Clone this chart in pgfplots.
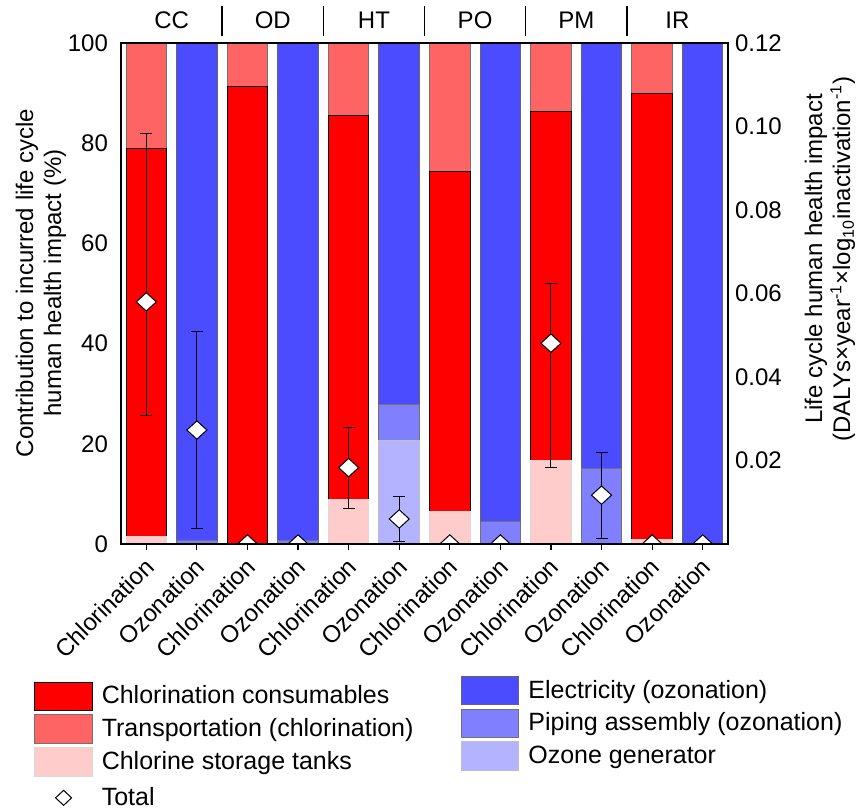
\documentclass[border=0pt]{standalone}
\usepackage{pgfplots}
\pgfplotsset{compat=1.18}
\usepackage{pgfplotstable}
\usepackage{fontspec}
\setmainfont{Liberation Sans}

\definecolor{consum}{RGB}{255,0,0}
\definecolor{transp}{RGB}{255,100,100}
\definecolor{tank}{RGB}{255,204,204}
\definecolor{elec}{RGB}{75,75,255}
\definecolor{piping}{RGB}{128,128,255}
\definecolor{ozgen}{RGB}{179,179,255}

\newcommand\lbl{\fontsize{12}{14}\selectfont}
\newcommand\lgd{\fontsize{12.5}{14}\selectfont}

% chlorination bars: contributions in percent, stacked bottom to top
\pgfplotstableread{
x  tank consum transp
0  1.5  77.5   21.0
2  0.2  91.2   8.6
4  8.9  76.7   14.4
6  6.4  68.0   25.6
8  16.6 69.7   13.7
10 0.9  89.1   10.0
}\chlor

% ozonation bars: contributions in percent, stacked bottom to top
\pgfplotstableread{
x  ozgen piping elec
1  0     0.7    99.3
3  0     0.7    99.3
5  20.6  7.2    72.2
7  0     4.5    95.5
9  0     15.1   84.9
11 0     0.2    99.8
}\ozon

% total impact (DALYs per year per log10 inactivation) with error range
\pgfplotstableread{
x  total  plus   minus
0  0.0580 0.0404 0.0273
1  0.0273 0.0237 0.0237
2  0      0      0
3  0      0      0
4  0.0183 0.0097 0.0097
5  0.0060 0.0053 0.0053
6  0      0      0
7  0      0      0
8  0.0481 0.0144 0.0297
9  0.0117 0.0103 0.0103
10 0      0.0008 0
11 0      0.0008 0
}\total

\pgfplotsset{
  panel/.style={
    scale only axis, width=303.5pt, height=250.5pt,
    at={(0pt,0pt)}, anchor=south west,
    xmin=-0.5, xmax=11.5, ymin=0, ymax=100,
    /pgf/number format/assume math mode=true,
    tick label style={font=\lbl},
    axis line style={line width=0.9pt},
  },
  bars/.style={ybar stacked, bar width=0.8},
  boxleg/.style={legend image code/.code={\draw[##1] (0pt,-7.1pt) rectangle (28.7pt,7.1pt);}},
  legbox/.style={draw=none, fill=none, inner sep=0pt, outer sep=0pt,
    row sep=1.65pt, column sep=2.5pt, font=\lgd},
  cap/.style={only marks, mark=-, mark size=3pt, black, mark options={line width=0.5pt}},
}

\begin{document}
\begin{tikzpicture}
\useasboundingbox (-60.5pt,-132.5pt) rectangle (373pt,272pt);

% chlorination bars, left axis, category labels
\begin{axis}[panel, bars, clip=false,
  xtick={0,...,11},
  xticklabels={Chlorination,Ozonation,Chlorination,Ozonation,Chlorination,Ozonation,
               Chlorination,Ozonation,Chlorination,Ozonation,Chlorination,Ozonation},
  xtick pos=bottom, tick align=outside, major tick length=3pt,
  x tick style={black, line width=0.6pt},
  xticklabel style={xshift=-1.5pt, yshift=-3pt, rotate=45, anchor=north east, inner sep=0pt},
  ytick={0,20,...,100}, ytick pos=left, y tick style={draw=none},
  ylabel={Contribution to incurred life cycle\\human health impact (\%)},
  every axis y label/.style={at={(axis description cs:-0.1318,0.521)}, rotate=90,
    anchor=center, align=center, font=\lbl},
  legend style={legbox, at={(axis description cs:-0.1427,-0.2749)}, anchor=north west},
  legend cell align=left,
]
\addlegendimage{boxleg, fill=consum, draw=black, line width=0.5pt}
\addlegendentry{Chlorination consumables}
\addlegendimage{boxleg, fill=transp, draw=black!55, line width=0.5pt}
\addlegendentry{Transportation (chlorination)}
\addlegendimage{boxleg, fill=tank, draw=black!15, line width=0.5pt}
\addlegendentry{Chlorine storage tanks}
\addlegendimage{legend image code/.code={
  \path[draw=none, fill=none] (0pt,-6pt) rectangle (28.7pt,9pt);
  \draw[black, fill=white, line width=0.5pt] (10.35pt,0pt) -- (14.35pt,3.75pt) -- (18.35pt,0pt) -- (14.35pt,-3.75pt) -- cycle;}}
\addlegendentry{Total}

\addplot[fill=tank, draw=black!15, line width=0.5pt] table[x=x, y=tank]{\chlor};
\addplot[fill=consum, draw=black, line width=0.5pt] table[x=x, y=consum]{\chlor};
\addplot[fill=transp, draw=black!55, line width=0.5pt] table[x=x, y=transp]{\chlor};

% impact categories above the plot
\node[font=\lbl, yshift=11.5pt] at (axis cs:0.5,100) {CC};
\node[font=\lbl, yshift=11.5pt] at (axis cs:2.5,100) {OD};
\node[font=\lbl, yshift=11.5pt] at (axis cs:4.5,100) {HT};
\node[font=\lbl, yshift=11.5pt] at (axis cs:6.5,100) {PO};
\node[font=\lbl, yshift=11.5pt] at (axis cs:8.5,100) {PM};
\node[font=\lbl, yshift=11.5pt] at (axis cs:10.5,100) {IR};
\draw[line width=0.8pt] ([yshift=3.5pt]axis cs:1.5,100) -- ([yshift=18.5pt]axis cs:1.5,100);
\draw[line width=0.8pt] ([yshift=3.5pt]axis cs:3.5,100) -- ([yshift=18.5pt]axis cs:3.5,100);
\draw[line width=0.8pt] ([yshift=3.5pt]axis cs:5.5,100) -- ([yshift=18.5pt]axis cs:5.5,100);
\draw[line width=0.8pt] ([yshift=3.5pt]axis cs:7.5,100) -- ([yshift=18.5pt]axis cs:7.5,100);
\draw[line width=0.8pt] ([yshift=3.5pt]axis cs:9.5,100) -- ([yshift=18.5pt]axis cs:9.5,100);
\end{axis}

% ozonation bars
\begin{axis}[panel, bars, hide axis,
  legend style={legbox, at={(axis description cs:0.5601,-0.2635)}, anchor=north west},
  legend cell align=left,
]
\addlegendimage{boxleg, fill=elec, draw=black!60, line width=0.5pt}
\addlegendentry{Electricity (ozonation)}
\addlegendimage{boxleg, fill=piping, draw=black!55, line width=0.5pt}
\addlegendentry{Piping assembly (ozonation)}
\addlegendimage{boxleg, fill=ozgen, draw=black!25, line width=0.5pt}
\addlegendentry{Ozone generator}

\addplot[fill=ozgen, draw=black!25, line width=0.5pt] table[x=x, y=ozgen]{\ozon};
\addplot[fill=piping, draw=black!55, line width=0.5pt] table[x=x, y=piping]{\ozon};
\addplot[fill=elec, draw=black!60, line width=0.5pt] table[x=x, y=elec]{\ozon};
\end{axis}

% totals on the right axis
\begin{axis}[panel, ymin=0, ymax=0.12, axis on top, clip marker paths=true,
  xtick=\empty,
  ytick={0.02,0.04,0.06,0.08,0.10,0.12},
  ytick pos=right, yticklabel pos=right, y tick style={draw=none},
  scaled y ticks=false,
  yticklabel style={/pgf/number format/.cd, fixed, fixed zerofill, precision=2},
  ylabel={Life cycle human health impact\\(DALYs×year\textsuperscript{-1}×log\textsubscript{10}inactivation\textsuperscript{-1})},
  every axis y label/.style={at={(axis description cs:1.168,0.569)}, rotate=90,
    anchor=center, align=center, font=\lbl},
]
% end caps of the error ranges
\addplot[cap] table[x=x, y expr=\thisrow{total}+\thisrow{plus}]{\total};
\addplot[cap] table[x=x, y expr=\thisrow{total}-\thisrow{minus}]{\total};
% totals with their error ranges
\addplot[only marks, mark=diamond*, mark size=4.6pt,
  mark options={xscale=1.45, fill=white, draw=black, line width=0.5pt},
  error bars/.cd, y dir=both, y explicit, error mark=none,
  error bar style={line width=0.5pt, black}]
  table[x=x, y=total, y error plus=plus, y error minus=minus]{\total};
\end{axis}
\end{tikzpicture}
\end{document}
